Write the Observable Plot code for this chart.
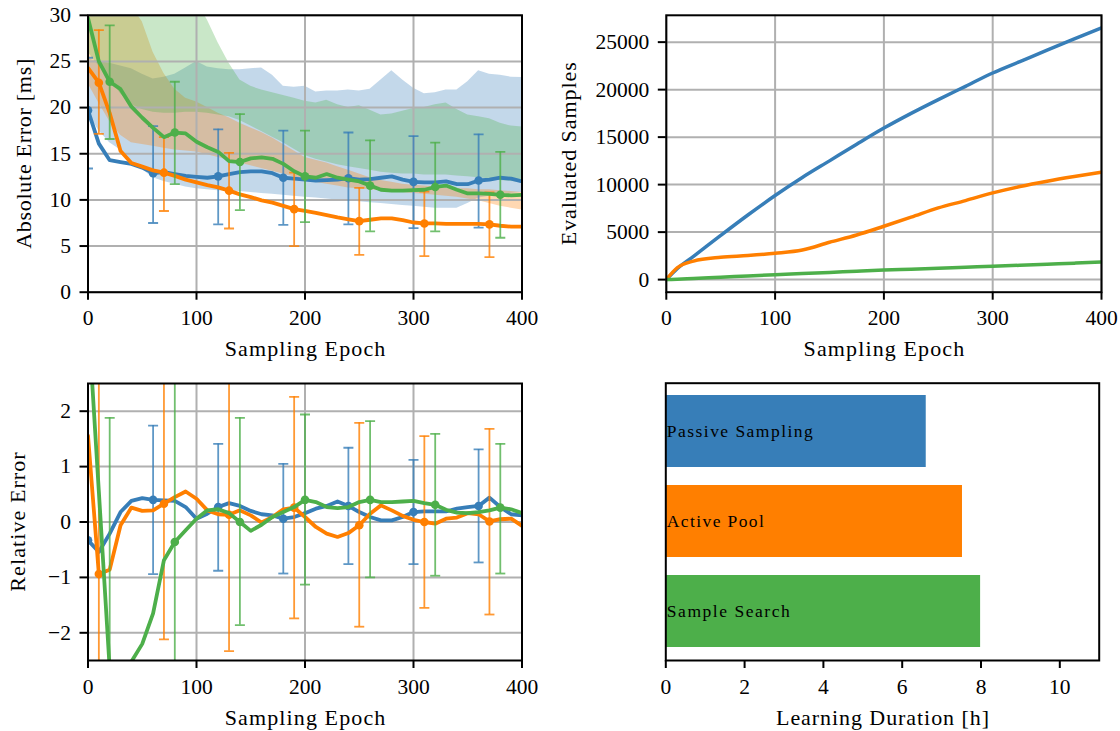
<!DOCTYPE html>
<html>
<head>
<meta charset="utf-8">
<script src="https://cdn.jsdelivr.net/npm/d3@7"></script>
<script src="https://cdn.jsdelivr.net/npm/@observablehq/plot@0.6"></script>
<style>
html, body { margin: 0; padding: 0; background: #fff; }
#root { position: relative; width: 1120px; height: 731px; overflow: hidden; background: #fff; }
#root > svg { position: absolute; }
</style>
</head>
<body>
<div id="root"></div>
<script>
// ---------------- DATA ----------------
const seriesNames = ["Passive Sampling", "Active Pool", "Sample Search"];

const epochs = [0,10,20,30,40,50,60,70,80,90,100,110,120,130,140,150,160,170,180,190,200,
                210,220,230,240,250,260,270,280,290,300,310,320,330,340,350,360,370,380,390,400];

// Absolute error [ms] – mean lines
const absMeanBlue = [19.7,16.1,14.3,14.1,13.9,13.5,12.9,13.0,12.8,12.6,12.5,12.4,12.55,12.8,13.0,13.1,13.1,12.9,12.4,12.3,12.2,
                     12.1,12.15,12.2,12.35,12.2,12.25,12.4,12.55,12.2,11.95,11.9,11.9,12.0,11.7,11.7,12.1,12.2,12.4,12.3,12.0];
const absMeanOrange = [24.3,22.7,19.4,15.3,14.0,13.6,13.2,12.95,12.6,12.2,11.9,11.6,11.35,11.0,10.6,10.3,9.95,9.7,9.35,9.0,8.8,
                       8.6,8.35,8.1,7.9,7.7,7.85,8.0,8.0,7.8,7.55,7.45,7.45,7.4,7.4,7.4,7.4,7.35,7.2,7.1,7.1];
const absMeanGreen = [29.7,25.0,22.8,22.0,20.1,18.9,17.8,16.8,17.3,17.2,16.3,15.7,15.2,14.2,14.1,14.5,14.6,14.45,13.9,13.1,12.55,
                      12.4,12.8,12.4,12.2,12.0,11.55,11.1,11.0,11.0,11.05,11.1,11.4,11.55,11.1,10.7,10.7,10.65,10.55,10.5,10.55];

// Absolute error – shaded bands (lower / upper)
const absBandLoBlue = [19.4,17.5,16.2,15.4,14.2,13.3,12.4,12.0,11.7,11.4,11.2,11.1,11.0,10.95,10.9,10.8,10.7,10.6,10.5,10.4,10.3,
                       10.2,10.1,10.0,9.9,9.8,9.7,9.6,9.5,9.4,9.3,9.2,9.1,9.1,9.1,9.6,10.2,10.4,10.6,10.7,10.8];
const absBandHiBlue = [25.3,25.0,24.8,24.5,24.2,23.6,23.1,23.3,23.6,24.3,25.0,24.4,24.2,24.1,24.1,24.2,24.3,23.5,22.3,22.2,22.3,
                       21.7,21.8,21.8,21.9,21.8,22.0,23.0,24.0,23.0,22.1,21.5,21.6,21.9,21.9,22.8,24.0,23.6,23.5,23.3,23.25];
const absBandLoOrange = [22.6,20.5,18.5,17.0,16.2,16.0,15.8,15.6,15.4,15.3,15.2,14.9,14.6,14.3,14.0,13.7,13.4,13.1,12.8,12.5,12.2,
                         11.9,11.7,11.5,11.3,11.2,11.1,11.0,10.9,10.8,10.7,10.6,10.5,10.4,10.3,10.1,9.9,9.6,9.3,9.1,8.9];
const absBandHiOrange = [33,33,33,32,31,29.3,26.0,23.7,22.0,21.0,20.6,20.0,19.4,18.9,18.3,17.8,17.3,16.7,16.0,15.3,14.6,
                         14.3,14.0,13.6,13.2,12.8,12.4,12.1,11.9,11.7,11.6,11.5,11.4,11.3,11.2,11.2,11.1,11.1,11.0,10.9,10.8];
const absBandLoGreen = [26.0,24.5,23.2,21.5,20.3,19.8,19.5,19.4,19.4,19.5,19.5,19.4,19.2,19.0,18.6,18.0,17.4,16.8,16.2,15.5,14.8,
                        14.4,14.1,13.8,13.6,13.4,13.2,13.0,12.9,12.8,12.8,12.7,12.7,12.7,12.6,12.5,12.4,12.3,12.1,12.0,11.9];
const absBandHiGreen = [38,38,38,38,38,38,38,38,38,38,31.5,29.5,27.0,24.8,23.0,22.3,21.9,21.6,21.3,21.0,20.7,
                        20.5,20.8,20.3,20.0,20.2,19.7,19.2,19.3,19.6,19.9,20.0,20.3,20.5,19.8,19.2,19.0,18.8,18.3,18.0,17.9];

// Absolute error – error bars at marker epochs
const absErrEpochsBlue = [0,60,120,180,240,300,360];
const absErrLoBlue = [13.4,7.5,7.35,7.3,7.35,6.95,7.0];
const absErrHiBlue = [25.4,18.0,17.65,17.5,17.3,16.9,17.1];
const absErrEpochsOrange = [10,70,130,190,250,310,370];
const absErrLoOrange = [17.15,8.8,6.9,5.0,4.05,3.9,3.8];
const absErrHiOrange = [28.4,16.8,15.1,12.95,11.3,10.9,10.8];
const absErrEpochsGreen = [20,80,140,200,260,320,380];
const absErrLoGreen = [16.6,11.7,8.9,7.6,6.6,6.6,5.9];
const absErrHiGreen = [28.9,22.8,19.3,17.5,16.45,16.2,15.2];

// Relative error – mean lines
const relMeanBlue = [-0.33,-0.54,-0.21,0.18,0.38,0.43,0.40,0.39,0.38,0.27,0.06,0.15,0.27,0.34,0.29,0.20,0.14,0.12,0.06,0.09,0.16,
                     0.24,0.29,0.37,0.29,0.18,0.09,0.03,0.03,0.09,0.18,0.19,0.19,0.19,0.24,0.27,0.29,0.44,0.27,0.14,0.12];
const relMeanOrange = [1.56,-0.94,-0.86,-0.06,0.26,0.20,0.21,0.33,0.45,0.55,0.42,0.21,0.14,0.13,0.21,0.12,-0.01,0.09,0.23,0.26,0.09,
                       -0.09,-0.21,-0.27,-0.20,-0.06,0.15,0.30,0.21,0.11,0.04,0.00,-0.03,0.06,0.08,0.16,0.14,0.01,0.05,0.06,-0.07];
const relMeanGreen = [3.75,0.55,-2.65,-4.6,-2.52,-2.2,-1.65,-0.69,-0.36,-0.15,0.06,0.21,0.23,0.16,0.0,-0.16,-0.05,0.09,0.18,0.27,0.40,
                      0.36,0.27,0.25,0.27,0.36,0.40,0.36,0.36,0.37,0.38,0.34,0.31,0.22,0.17,0.16,0.18,0.21,0.26,0.23,0.16];

// Relative error – error bars
const relErrEpochsBlue = [0,60,120,180,240,300,360];
const relErrLoBlue = [-3.5,-0.94,-0.88,-0.93,-0.76,-0.76,-0.73];
const relErrHiBlue = [2.8,1.74,1.41,1.05,1.34,1.12,1.31];
const relErrEpochsOrange = [10,70,130,190,250,310,370];
const relErrLoOrange = [-4.6,-2.12,-2.33,-1.74,-1.89,-1.55,-1.67];
const relErrHiOrange = [2.7,2.78,2.59,2.26,1.79,1.55,1.68];
const relErrEpochsGreen = [20,80,140,200,260,320,380];
const relErrLoGreen = [-7.2,-3.9,-1.86,-1.13,-1.0,-0.97,-0.93];
const relErrHiGreen = [1.88,3.2,1.88,1.94,1.82,1.59,1.41];

// Evaluated samples
const sampleEpochs = [0,10,25,50,75,100,125,150,175,200,225,250,275,300,325,350,375,400];
const samplesBlue = [0,1150,2450,4650,6800,8850,10750,12500,14250,15950,17500,18950,20350,21750,22950,24150,25350,26500];
const samplesOrange = [0,1250,1950,2350,2530,2770,3120,3930,4700,5620,6570,7550,8320,9130,9800,10360,10850,11300];
const samplesGreen = [0,50,130,260,390,520,640,760,880,1000,1100,1200,1300,1400,1510,1620,1730,1850];

// Learning duration [h]
const durations = [6.61, 7.53, 7.99];

// Tick labels
const epochTicks = [0,100,200,300,400];
const absTicks = [0,5,10,15,20,25,30];
const relTicks = [-2,-1,0,1,2];
const sampleTicks = [0,5000,10000,15000,20000,25000];
const durationTicks = [0,2,4,6,8,10];

// ---------------- STYLE ----------------
const COLORS = ["#377eb8", "#ff7f00", "#4daf4a"];
const GRID = "#b0b0b0";
const FONT = "'Liberation Serif', 'Times New Roman', serif";
const titleLengths = {
  "Sampling Epoch": 160.6, "Absolute Error [ms]": 190, "Evaluated Samples": 183,
  "Relative Error": 139.3, "Learning Duration [h]": 213,
  "Passive Sampling": 146, "Active Pool": 97, "Sample Search": 123
};
const capSymbol = { draw(ctx) { ctx.moveTo(-5, 0); ctx.lineTo(5, 0); } };

function baseStyle() {
  return { fontFamily: FONT, fontSize: "21.5px", color: "black", background: "transparent", overflow: "visible" };
}
function axes(xTicks, yTicks, fmtY) {
  const out = [
    Plot.axisX({ ticks: xTicks, tickSize: 8, tickPadding: 10, strokeWidth: 2, label: null, tickFormat: d3.format("d") })
  ];
  if (yTicks) out.push(Plot.axisY({ ticks: yTicks, tickSize: 8, tickPadding: 9, strokeWidth: 2, label: null, tickFormat: fmtY || d3.format("d") }));
  return out;
}
function titles(xTitle, yTitle, xdy, ydx) {
  const out = [Plot.text([xTitle], { text: d => d, frameAnchor: "bottom", lineAnchor: "middle", textAnchor: "middle", dy: xdy, fontSize: 22, fill: "black" })];
  if (yTitle) out.push(Plot.text([yTitle], { text: d => d, frameAnchor: "left", lineAnchor: "middle", textAnchor: "middle", rotate: -90, dx: ydx, fontSize: 22, fill: "black" }));
  return out;
}

function errorPanel(cfg) {
  const marks = [];
  if (cfg.bandLo) cfg.bandLo.forEach((lo, s) => {
    const hi = cfg.bandHi[s];
    marks.push(Plot.areaY(epochs, { x: d => d, y1: (d, i) => lo[i], y2: (d, i) => hi[i], fill: COLORS[s], fillOpacity: 0.3, clip: true }));
  });
  marks.push(Plot.gridX({ ticks: epochTicks, stroke: GRID, strokeOpacity: 1, strokeWidth: 2 }));
  marks.push(Plot.gridY({ ticks: cfg.yTicks, stroke: GRID, strokeOpacity: 1, strokeWidth: 2 }));
  cfg.means.forEach((m, s) => {
    const ex = cfg.errX[s], lo = cfg.errLo[s], hi = cfg.errHi[s];
    const st = { stroke: COLORS[s], strokeWidth: 1.8, strokeOpacity: 0.8, clip: true };
    marks.push(Plot.ruleX(ex, { x: d => d, y1: (d, i) => lo[i], y2: (d, i) => hi[i], ...st }));
    marks.push(Plot.dot(ex, { x: d => d, y: (d, i) => lo[i], symbol: capSymbol, fill: "none", ...st }));
    marks.push(Plot.dot(ex, { x: d => d, y: (d, i) => hi[i], symbol: capSymbol, fill: "none", ...st }));
    marks.push(Plot.line(epochs, { x: d => d, y: (d, i) => m[i], stroke: COLORS[s], strokeWidth: 3.8, clip: true }));
    marks.push(Plot.dot(ex, { x: d => d, y: d => m[epochs.indexOf(d)], fill: COLORS[s], r: 4.3, clip: true }));
  });
  marks.push(...axes(epochTicks, cfg.yTicks));
  marks.push(Plot.frame({ stroke: "black", strokeWidth: 2 }));
  marks.push(...titles("Sampling Epoch", cfg.yTitle, cfg.xdy, cfg.ydx));
  return Plot.plot({
    width: cfg.w, height: cfg.h,
    marginLeft: cfg.ml, marginRight: cfg.mr, marginTop: cfg.mt, marginBottom: cfg.mb,
    x: { domain: [0, 400] },
    y: { domain: cfg.yDomain },
    style: baseStyle(),
    marks
  });
}

// ---------------- PANELS ----------------
const tl = errorPanel({
  w: 560, h: 365, ml: 87.5, mr: 38.5, mt: 14.8, mb: 73.3,
  yDomain: [0, 30], yTicks: absTicks, yTitle: "Absolute Error [ms]", xdy: 56.5, ydx: -64,
  means: [absMeanBlue, absMeanOrange, absMeanGreen],
  bandLo: [absBandLoBlue, absBandLoOrange, absBandLoGreen],
  bandHi: [absBandHiBlue, absBandHiOrange, absBandHiGreen],
  errX: [absErrEpochsBlue, absErrEpochsOrange, absErrEpochsGreen],
  errLo: [absErrLoBlue, absErrLoOrange, absErrLoGreen],
  errHi: [absErrHiBlue, absErrHiOrange, absErrHiGreen]
});

const bl = errorPanel({
  w: 560, h: 366, ml: 87.5, mr: 38.5, mt: 18, mb: 71,
  yDomain: [-2.5, 2.5], yTicks: relTicks, yTitle: "Relative Error", xdy: 57, ydx: -70,
  means: [relMeanBlue, relMeanOrange, relMeanGreen],
  errX: [relErrEpochsBlue, relErrEpochsOrange, relErrEpochsGreen],
  errLo: [relErrLoBlue, relErrLoOrange, relErrLoGreen],
  errHi: [relErrHiBlue, relErrHiOrange, relErrHiGreen]
});

const sMax = d3.max(samplesBlue);
const tr = Plot.plot({
  width: 560, height: 365, marginLeft: 105.8, marginRight: 19, marginTop: 14.8, marginBottom: 73.3,
  x: { domain: [0, 400] },
  y: { domain: [-0.05 * sMax, 1.05 * sMax] },
  style: baseStyle(),
  marks: [
    Plot.gridX({ ticks: epochTicks, stroke: GRID, strokeOpacity: 1, strokeWidth: 2 }),
    Plot.gridY({ ticks: sampleTicks, stroke: GRID, strokeOpacity: 1, strokeWidth: 2 }),
    ...[samplesBlue, samplesOrange, samplesGreen].map((vals, s) =>
      Plot.line(sampleEpochs, { x: d => d, y: (d, i) => vals[i], stroke: COLORS[s], strokeWidth: 3.5, curve: "monotone-x", clip: true })),
    ...axes(epochTicks, sampleTicks),
    Plot.frame({ stroke: "black", strokeWidth: 2 }),
    ...titles("Sampling Epoch", "Evaluated Samples", 56.5, -97.5)
  ]
});

const barRows = seriesNames.map((name, i) => ({ name, value: durations[i], color: COLORS[i] }));
const br = Plot.plot({
  width: 560, height: 366, marginLeft: 105.3, marginRight: 21.3, marginTop: 17.7, marginBottom: 71,
  x: { domain: [0, 11] },
  y: { domain: seriesNames, paddingInner: 0.2, paddingOuter: 0.14, axis: null },
  color: { type: "identity" },
  style: baseStyle(),
  marks: [
    Plot.barX(barRows, { x: "value", y: "name", fill: "color" }),
    Plot.text(barRows, { y: "name", text: "name", frameAnchor: "left", textAnchor: "start", lineAnchor: "middle", dx: 1, fontSize: 17.5, fill: "black" }),
    ...axes(durationTicks, null),
    Plot.frame({ stroke: "black", strokeWidth: 2 }),
    ...titles("Learning Duration [h]", null, 57.5, 0)
  ]
});

const root = document.getElementById("root");
[[tl, 0, 0], [tr, 560, 0], [bl, 0, 365], [br, 560, 365]].forEach(([el, left, top]) => {
  el.style.left = left + "px";
  el.style.top = top + "px";
  root.appendChild(el);
});
root.querySelectorAll("text").forEach(t => {
  const L = titleLengths[t.textContent];
  if (L) { t.setAttribute("textLength", L); t.setAttribute("lengthAdjust", "spacing"); }
});
</script>
</body>
</html>
